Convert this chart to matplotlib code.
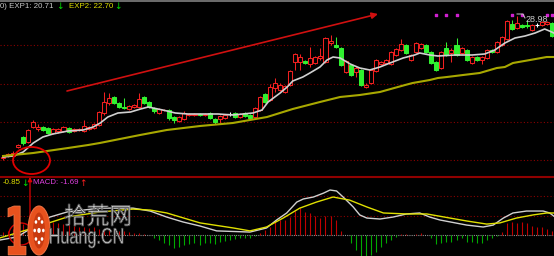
import matplotlib
matplotlib.use('Agg')
import matplotlib.pyplot as plt
import numpy as np
from matplotlib.patches import Rectangle, Ellipse, PathPatch
from matplotlib.textpath import TextPath
from matplotlib.font_manager import FontProperties
from matplotlib.transforms import Affine2D

plt.rcParams['font.family'] = ['Liberation Sans', 'DejaVu Sans']

# ---- daily candles (price) ----
opens = [21.90, 22.00, 22.00, 22.45, 22.95, 22.70, 23.45, 23.35, 23.45, 23.40,
         23.15, 23.25, 23.25, 23.40, 23.25, 23.30, 23.25, 23.35, 23.40, 23.55,
         24.15, 24.65, 24.95, 24.65, 24.45, 24.35, 24.45, 24.45, 24.95, 24.70,
         24.40, 24.15, 24.28, 24.30, 23.95, 23.75, 23.85, 24.05, 24.05, 24.10,
         24.05, 24.15, 23.85, 23.85, 23.90, 24.10, 24.15, 23.95, 24.15, 24.05,
         23.95, 24.30, 25.10, 24.80, 25.40, 25.30, 25.20, 25.55, 26.70, 26.70,
         26.75, 26.60, 26.65, 26.90, 26.70, 27.65, 27.55, 27.40, 26.20, 26.55,
         26.20, 26.30, 25.45, 25.65, 26.25, 26.60, 26.65, 26.60, 27.05, 27.30,
         27.55, 26.80, 27.20, 27.40, 27.55, 27.20, 26.70, 26.40, 27.40, 27.15,
         27.55, 27.15, 27.30, 26.65, 26.95, 26.80, 26.90, 27.30, 27.20, 27.55,
         27.85, 28.60, 28.40, 28.55, 28.55, 28.30, 28.55, 28.55, 28.60, 28.65]
highs = [22.05, 22.15, 22.25, 22.60, 23.00, 23.35, 23.80, 23.60, 23.50, 23.45,
         23.40, 23.40, 23.50, 23.45, 23.40, 23.40, 23.80, 23.50, 23.65, 24.25,
         25.20, 25.15, 25.00, 24.70, 24.90, 24.55, 24.60, 25.15, 25.00, 24.75,
         24.45, 24.40, 24.35, 24.35, 24.00, 24.00, 24.25, 24.15, 24.15, 24.15,
         24.15, 24.20, 23.90, 24.05, 24.10, 24.20, 24.20, 24.15, 24.20, 24.10,
         24.45, 25.00, 25.15, 25.60, 25.90, 25.65, 25.55, 26.30, 27.15, 27.10,
         26.80, 27.45, 27.00, 27.40, 27.95, 28.05, 27.95, 27.45, 26.80, 26.60,
         26.50, 26.35, 25.65, 26.35, 26.85, 26.75, 26.85, 27.25, 27.40, 27.85,
         27.60, 27.10, 27.70, 27.65, 27.60, 27.25, 26.75, 27.25, 27.70, 27.40,
         27.90, 27.45, 27.35, 27.00, 27.00, 27.00, 27.35, 27.35, 27.75, 28.00,
         28.80, 28.80, 28.98, 28.60, 28.80, 28.60, 28.65, 28.75, 28.75, 28.70]
lows = [21.80, 21.95, 21.90, 22.40, 22.55, 22.65, 23.40, 23.25, 23.25, 23.10,
        23.10, 23.15, 23.20, 23.15, 23.20, 23.25, 23.20, 23.30, 23.35, 23.50,
        24.05, 24.55, 24.60, 24.40, 24.35, 24.30, 24.40, 24.40, 24.60, 24.40,
        24.15, 24.10, 24.25, 23.80, 23.65, 23.70, 23.80, 24.00, 24.00, 24.00,
        24.00, 23.85, 23.60, 23.65, 23.85, 24.00, 23.90, 23.90, 23.95, 23.85,
        23.90, 24.25, 24.65, 24.75, 25.20, 25.25, 25.15, 25.50, 26.30, 26.30,
        26.60, 26.45, 26.60, 26.80, 26.65, 27.55, 27.40, 26.50, 26.15, 26.00,
        25.95, 25.50, 25.40, 25.60, 26.20, 26.55, 26.60, 26.55, 27.00, 27.25,
        27.10, 26.75, 27.15, 27.35, 27.15, 26.60, 26.25, 26.35, 27.00, 26.70,
        27.00, 27.10, 26.75, 26.60, 26.75, 26.60, 26.85, 27.15, 27.15, 27.50,
        27.80, 28.30, 28.35, 28.40, 28.40, 28.25, 28.45, 28.50, 28.55, 27.95]
closes = [21.95, 22.10, 22.15, 22.55, 22.65, 23.30, 23.70, 23.45, 23.30, 23.15,
          23.35, 23.35, 23.45, 23.20, 23.35, 23.35, 23.50, 23.45, 23.60, 24.20,
          24.70, 24.90, 24.65, 24.45, 24.40, 24.50, 24.55, 24.85, 24.65, 24.45,
          24.25, 24.35, 24.32, 23.90, 23.80, 23.95, 24.15, 24.10, 24.10, 24.05,
          24.10, 23.90, 23.70, 24.00, 24.05, 24.10, 23.95, 24.10, 24.00, 23.90,
          24.40, 24.95, 24.70, 25.45, 25.65, 25.55, 25.50, 26.25, 27.10, 26.95,
          26.65, 26.90, 26.95, 27.00, 27.90, 27.75, 27.45, 26.55, 26.75, 26.05,
          26.40, 25.55, 25.55, 26.30, 26.80, 26.70, 26.80, 27.20, 27.35, 27.60,
          27.15, 27.05, 27.65, 27.60, 27.20, 26.65, 26.30, 27.20, 27.05, 27.30,
          27.05, 27.40, 26.80, 26.95, 26.80, 26.95, 27.30, 27.20, 27.70, 27.95,
          28.75, 28.35, 28.65, 28.45, 28.50, 28.55, 28.55, 28.70, 28.70, 28.00]

# ---- moving averages EXP1 / EXP2 (read at day positions) ----
exp1_day = [0, 2, 4, 6, 7.9, 9.9, 12.9, 15.9, 17.9, 19.3, 20.8, 22.8, 25.3, 27.3,
            28.8, 31.7, 34.2, 36.7, 42.7, 45.6, 49.6, 51.4, 52.6, 55.0, 56.4, 57.5,
            59.5, 60.9, 62.9, 64.3, 65.5, 66.9, 68.9, 70.8, 72.8, 74.8, 76.8, 79.4,
            81.7, 82.7, 84.7, 86.3, 89.7, 93.1, 95.6, 97.6, 99.6, 101.6, 103.6,
            105.6, 107.5, 108.9, 109.3]
exp1 = [21.95, 22.00, 22.20, 22.65, 22.95, 23.10, 23.25, 23.30, 23.45, 23.65, 23.95,
        24.15, 24.20, 24.35, 24.45, 24.30, 24.15, 24.10, 24.10, 24.05, 24.15, 24.30,
        24.70, 25.15, 25.45, 25.75, 25.95, 26.15, 26.45, 26.80, 26.95, 26.90, 26.60,
        26.40, 26.30, 26.45, 26.65, 26.90, 27.05, 27.15, 27.05, 27.00, 27.05, 27.05,
        27.10, 27.30, 27.65, 27.90, 28.00, 28.15, 28.35, 28.20, 28.15]
exp2_day = [0, 6, 12.9, 16.9, 19.2, 23.2, 27.2, 32.5, 39.1, 45.6, 52.4, 57.5, 62.9,
            66.9, 70.8, 74.8, 79.8, 81.3, 84.7, 86.3, 88.1, 91.3, 94.6, 98.0, 99.6,
            101.2, 104.6, 107.9, 109.3]
exp2 = [22.00, 22.15, 22.40, 22.55, 22.65, 22.85, 23.05, 23.30, 23.50, 23.65, 23.95,
        24.35, 24.70, 24.95, 25.05, 25.20, 25.55, 25.65, 25.80, 25.90, 25.95, 26.05,
        26.15, 26.40, 26.45, 26.65, 26.80, 26.95, 26.95]

# signal dots above the candles
signal_days = [86, 88, 90, 101, 103, 108, 109]
signal_price = 29.05

# ---- MACD panel ----
diff_day = [-0.6, 2.8, 6.0, 9.3, 12.7, 19.2, 25.8, 29.2, 32.5, 35.7, 39.1, 42.4, 49.0,
            52.3, 54.3, 56.3, 58.3, 59.6, 61.6, 63.6, 64.9, 66.2, 67.5, 69.5, 70.8,
            72.2, 74.8, 77.4, 80.1, 82.7, 84.7, 86.7, 92.0, 95.3, 97.3, 99.3, 101.2,
            103.9, 107.2, 108.5, 109.3]
diff = [-0.26, -0.10, 0.41, 0.92, 1.18, 1.38, 1.38, 1.23, 0.92, 0.67, 0.46, 0.21, 0.15,
        0.36, 0.77, 1.13, 1.69, 1.85, 1.95, 2.15, 2.31, 2.26, 1.95, 1.44, 1.03,
        0.87, 0.82, 0.92, 1.08, 1.13, 0.92, 0.77, 0.51, 0.41, 0.51, 0.87, 1.13,
        1.23, 1.23, 1.13, 0.97]
dea_day = [-0.6, 6.0, 12.7, 19.2, 25.8, 29.2, 32.5, 39.1, 45.7, 49.0, 52.3, 55.6, 58.9,
           62.2, 65.5, 68.8, 72.2, 75.5, 80.1, 84.1, 88.7, 92.0, 96.0, 98.6, 101.9,
           105.2, 107.9, 109.3]
dea = [-0.15, 0.36, 0.92, 1.18, 1.33, 1.28, 1.13, 0.62, 0.36, 0.21, 0.41, 0.87, 1.38,
       1.69, 1.95, 1.79, 1.44, 1.13, 1.08, 1.08, 0.87, 0.72, 0.56, 0.62, 0.87,
       1.03, 1.13, 1.13]
macd_hist = [0.15, 0.2, 0.3, 0.45, 0.55, 0.6, 0.65, 0.7, 0.75, 0.7,
             0.65, 0.6, 0.55, 0.5, 0.45, 0.4, 0.4, 0.35, 0.4, 0.3,
             0.3, 0.25, 0.3, 0.2, 0.2, 0.15, 0.1, 0.1, 0.05, 0.0,
             -0.15, -0.25, -0.4, -0.5, -0.65, -0.6, -0.5, -0.45, -0.4, -0.5,
             -0.4, -0.4, -0.45, -0.35, -0.3, -0.25, -0.2, -0.15, -0.15, -0.15,
             -0.03, 0.1, 0.25, 0.4, 0.77, 0.77, 0.77, 0.92, 1.23, 1.38,
             1.18, 1.13, 0.97, 0.87, 0.97, 0.97, 0.77, 0.2, -0.02, -0.41,
             -0.77, -1.1, -1.1, -1.05, -0.87, -0.62, -0.41, -0.26, -0.1, 0.05,
             0.03, 0.0, 0.05, 0.1, 0.0, -0.15, -0.46, -0.41, -0.36, -0.36,
             -0.26, -0.15, -0.36, -0.36, -0.41, -0.41, -0.26, -0.15, -0.03, 0.15,
             0.62, 0.67, 0.62, 0.67, 0.62, 0.46, 0.41, 0.41, 0.31, 0.2]

UP, DOWN = '#f02020', '#30f030'
W, H = 554, 256

fig = plt.figure(figsize=(W / 100, H / 100), dpi=100, facecolor='black')
ax = fig.add_axes([0, 80 / H, 1, 176 / H], facecolor='black')
axm = fig.add_axes([0, 0, 1, 80 / H], facecolor='black')
for a in (ax, axm):
    a.set_xlim(-0.6, 109.35)
    a.axis('off')
ax.set_ylim(21.0, 29.8)
axm.set_ylim(-1.08, 3.03)

# grid
for p in [27.55, 25.60, 23.70, 21.80]:
    ax.axhline(p, color='#8a0000', lw=0.8, ls=(0, (1, 2)))
for m in [1.0, 2.0]:
    axm.axhline(m, color='#8a0000', lw=0.8, ls=(0, (1, 2)))
axm.axhline(0, color='#909090', lw=0.8, ls=(0, (1, 1)))

# candles
days = np.arange(len(opens))
for i in days:
    o, h, l, c = opens[i], highs[i], lows[i], closes[i]
    col = UP if c > o else (DOWN if c < o else '#ffffff')
    ax.vlines(i, l, h, color=col, lw=0.75, zorder=2)
    if c == o:
        ax.hlines(o, i - 0.45, i + 0.45, color=col, lw=0.8, zorder=3)
        continue
    lo = min(o, c)
    ht = max(abs(c - o), 0.03)
    face = 'black' if c > o else col
    ax.add_patch(Rectangle((i - 0.4, lo), 0.8, ht, facecolor=face,
                           edgecolor=col, lw=0.75, zorder=3))

ax.plot(exp1_day, exp1, color='#d0d0d0', lw=1.2, zorder=4)
ax.plot(exp2_day, exp2, color='#a8a800', lw=1.5, zorder=4)
ax.scatter(signal_days, [signal_price] * len(signal_days), marker='s', s=3,
           color='#d020d0', zorder=5)

# MACD
hist = np.array(macd_hist)
axm.vlines(days[hist > 0], 0, hist[hist > 0], color='#c00000', lw=0.8)
axm.vlines(days[hist < 0], 0, hist[hist < 0], color='#00a800', lw=0.8)
axm.plot(diff_day, diff, color='#d0d0d0', lw=1.0)
axm.plot(dea_day, dea, color='#e0e000', lw=1.0)

# overlay in pixel coordinates for labels and annotations
ov = fig.add_axes([0, 0, 1, 1])
ov.set_xlim(0, W)
ov.set_ylim(H, 0)
ov.axis('off')
ov.patch.set_alpha(0)

ov.axhline(0.6, color='#808080', lw=1.2)
ov.axhline(176.5, color='#900000', lw=1.5)

fs = 5.7
arrow_font = ['DejaVu Sans']
ov.text(0, 6.5, '0) EXP1: 20.71', color='#c8c8c8', fontsize=fs, va='center')
ov.text(56.5, 6.5, '↓', color='#00e000', fontsize=6.5, va='center', family=arrow_font)
ov.text(69, 6.5, 'EXP2: 22.70', color='#e0e000', fontsize=fs, va='center')
ov.text(114.5, 6.5, '↓', color='#00e000', fontsize=6.5, va='center', family=arrow_font)

ov.text(3, 183, '-0.85', color='#e0e000', fontsize=fs, va='center')
ov.text(21.5, 183, '↓', color='#00e000', fontsize=6.5, va='center', family=arrow_font)
ov.text(33, 183, 'MACD: -1.69', color='#e040e0', fontsize=fs, va='center')
ov.text(79.5, 183, '↑', color='#ff2020', fontsize=6.5, va='center', family=arrow_font)

# max price tag
ov.plot([517, 523, 525], [14, 14, 18], color='#c8c8c8', lw=0.7)
ov.text(526, 19, '28.98', color='#c8c8c8', fontsize=6.5, va='center')

# hand-drawn annotations
ov.annotate('', xy=(378, 14), xytext=(67, 91),
            arrowprops=dict(arrowstyle='-|>', color='#d01010', lw=1.2,
                            mutation_scale=9, shrinkA=0, shrinkB=0))
ov.add_patch(Ellipse((31.5, 160.5), 37, 27, fill=False, edgecolor='#e00000', lw=1.3))
ov.add_patch(Ellipse((21, 234), 24, 22, fill=False, edgecolor='#d00000', lw=1.0))
ov.annotate('', xy=(30, 177), xytext=(30, 236),
            arrowprops=dict(arrowstyle='-|>', color='#e00000', lw=0.9,
                            mutation_scale=6, shrinkA=0, shrinkB=0))


def fit_text(s, box, prop, face, edge=None, lw=0.0):
    tp = TextPath((0, 0), s, size=10, prop=prop)
    ext = tp.get_extents()
    x0, y0, x1, y1 = box
    sx = (x1 - x0) / ext.width
    sy = (y1 - y0) / ext.height
    tr = Affine2D().scale(sx, -sy).translate(x0 - ext.x0 * sx, y1 + ext.y0 * sy)
    path = tr.transform_path(tp)
    ov.add_patch(PathPatch(path, facecolor=face, edgecolor=edge or face, lw=lw,
                           zorder=10))


# watermark logo
orange = '#e8521e'
fit_text('1', (8, 206, 26, 255), FontProperties(family='DejaVu Sans', weight='bold'),
         orange, '#f08050', 0.5)
ov.add_patch(Ellipse((39, 230.5), 22, 49, facecolor=orange, edgecolor='#f07040',
                     lw=0.8, zorder=10))
ov.add_patch(Ellipse((39, 230.5), 12, 36, facecolor='#c83a10', edgecolor='none',
                     zorder=10))
ang = np.linspace(0, 2 * np.pi, 9)[:-1]
for a in ang:
    ov.add_patch(Ellipse((39 + 4.3 * np.cos(a), 230.5 + 12 * np.sin(a)), 2.6, 3.6,
                         facecolor='white', edgecolor='none', zorder=11))
ov.add_patch(Ellipse((39, 230.5), 3.4, 5, facecolor='white', edgecolor='none',
                     zorder=11))

fit_text('拾荒网', (65, 204, 130, 226),
         FontProperties(family='Noto Sans CJK SC'), '#d0d0d0', '#505050', 0.6)
fit_text('Huang.CN', (50, 228, 123, 248),
         FontProperties(family='Liberation Sans'), '#c8c8c8', '#505050', 0.5)

fig.savefig('out.png', dpi=100, facecolor='black')
